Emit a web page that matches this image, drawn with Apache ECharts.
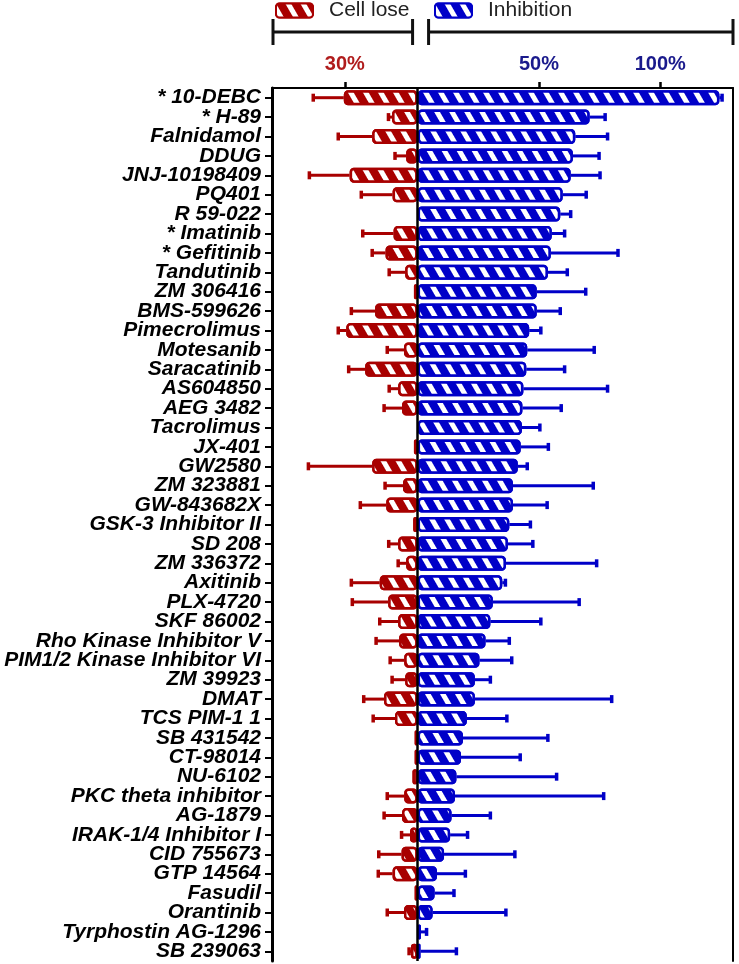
<!DOCTYPE html>
<html>
<head>
<meta charset="utf-8">
<script src="https://cdn.jsdelivr.net/npm/echarts@6/dist/echarts.min.js"></script>
<style>
html,body{margin:0;padding:0;background:#fff;}
#chart{width:739px;height:964px;}
</style>
</head>
<body>
<div id="chart"></div>
<script>
const compounds = ['* 10-DEBC','* H-89','Falnidamol','DDUG','JNJ-10198409','PQ401','R 59-022','* Imatinib','* Gefitinib','Tandutinib','ZM 306416','BMS-599626','Pimecrolimus','Motesanib','Saracatinib','AS604850','AEG 3482','Tacrolimus','JX-401','GW2580','ZM 323881','GW-843682X','GSK-3 Inhibitor II','SD 208','ZM 336372','Axitinib','PLX-4720','SKF 86002','Rho Kinase Inhibitor V','PIM1/2 Kinase Inhibitor VI','ZM 39923','DMAT','TCS PIM-1 1','SB 431542','CT-98014','NU-6102','PKC theta inhibitor','AG-1879','IRAK-1/4 Inhibitor I','CID 755673','GTP 14564','Fasudil','Orantinib','Tyrphostin AG-1296','SB 239063'];

const inhibition = [124.4,70.9,65,64,63.1,59.8,58.8,55.3,54.9,53.7,49.1,49.1,46,45.2,44.8,43.6,43.2,43,42.5,41.3,39.3,39.3,37.8,37.2,36.4,34.9,31,30,28,25.5,23.6,23.6,20.3,18.7,17.9,16,15.4,14,13.4,10.9,8,7,6.2,1.4,1.2];
const inhibitionErr = [1.1,6.4,13.3,10.8,12.1,9.7,4.3,5.3,27.7,8.0,20.2,9.7,4.8,27.6,15.8,34.7,16.0,7.4,11.4,3.9,33.1,14.1,8.7,10.3,37.4,1.3,35.6,20.8,9.8,13.3,6.4,56.4,16.5,35.0,24.4,41.3,61.3,16.0,7.2,29.2,11.7,8.0,30.2,2.3,14.8];

const cellLose = [30.4,10.5,18.7,4.7,28,10.3,0,9.9,13.2,5.1,1.5,17.5,29.4,5.6,21.6,8,6.4,0,1.5,18.7,6,12.9,1.8,8,4.7,15.6,12.1,8,7.6,5.5,5.1,13.8,9.3,1.2,1.2,2.1,5.5,6.4,3.1,6.6,10.3,1.2,5.6,0,2.7];
const cellLoseErr = [12.6,1.5,14,4.6,16.6,12.9,0,12.7,5.5,6.6,0,9.8,3.3,6.9,6.8,3.7,7.4,0,0,26.3,7.4,10.7,0,3.9,3.3,11.7,14.8,7.6,9.5,5.8,5.4,8.4,9,0,0,0,7,7.4,3.5,9.4,5.9,0,6.9,0,0.8];

const topTicks = [-30, 50, 100];

const RED = '#A80000';
const BLUE = '#0000C8';
const LABEL_RED = '#B01C1C';
const LABEL_BLUE = '#1A1A8C';

const hatch = {
  symbol: 'rect',
  symbolSize: 1,
  color: '#ffffff',
  dashArrayX: [1, 0],
  dashArrayY: [5, 8],
  rotation: Math.PI / 3
};

const chart = echarts.init(document.getElementById('chart'), null, {renderer: 'canvas'});

function errRender(params, api) {
  const v = api.value(0), e = api.value(1), y = api.value(2);
  const p0 = api.coord([v, y]);
  const p1 = api.coord([e, y]);
  if (Math.abs(p1[0] - p0[0]) < 0.5) return null;
  const color = api.visual('color');
  return {
    type: 'group',
    children: [
      {type: 'line', shape: {x1: p0[0], y1: p0[1], x2: p1[0], y2: p1[1]}, style: {stroke: color, lineWidth: 3}},
      {type: 'line', shape: {x1: p1[0], y1: p1[1] - 4, x2: p1[0], y2: p1[1] + 4}, style: {stroke: color, lineWidth: 3.5}}
    ]
  };
}

const redBars = cellLose.map(v => (v === 0 ? null : -v));
const blueBars = inhibition.map(v => (v === 0 ? null : v));
const redErr = [], blueErr = [];
cellLose.forEach((v, i) => { if (cellLoseErr[i] > 0) redErr.push([-v, -(v + cellLoseErr[i]), i]); });
inhibition.forEach((v, i) => { if (inhibitionErr[i] > 0) blueErr.push([v, v + inhibitionErr[i], i]); });

const FONT = 'Liberation Sans, Arial, sans-serif';

const option = {
  animation: false,
  backgroundColor: '#fff',
  legend: [
    {
      data: ['Cell lose'], left: 270, top: -5, itemWidth: 37, itemHeight: 14, icon: 'roundRect',
      textStyle: {fontSize: 21, color: '#222', padding: [0, 0, 0, 11], fontFamily: FONT}
    },
    {
      data: ['Inhibition'], left: 429, top: -5, itemWidth: 37, itemHeight: 14, icon: 'roundRect',
      textStyle: {fontSize: 21, color: '#222', padding: [0, 0, 0, 11], fontFamily: FONT}
    }
  ],
  grid: {left: 272, right: 6, top: 88, bottom: 3, containLabel: false},
  xAxis: {
    type: 'value', position: 'top', min: -60, max: 130,
    axisLine: {show: true, onZero: false, lineStyle: {color: '#000', width: 2}},
    axisTick: {show: true, customValues: topTicks, length: 6, inside: false, lineStyle: {color: '#000', width: 2.5}},
    splitLine: {show: false},
    axisLabel: {
      customValues: topTicks, margin: 14,
      formatter: v => Math.abs(v) + '%',
      color: v => (v < 0 ? LABEL_RED : LABEL_BLUE),
      fontSize: 20, fontWeight: 'bold', fontFamily: FONT
    }
  },
  yAxis: [
    {
      type: 'category', inverse: true, data: compounds,
      axisLine: {show: true, onZero: false, lineStyle: {color: '#000', width: 3}},
      axisTick: {show: true, alignWithLabel: true, length: 7, lineStyle: {color: '#000', width: 2}},
      axisLabel: {
        fontSize: 21, fontWeight: 'bold', fontStyle: 'italic', color: '#000', margin: 11,
        fontFamily: FONT, interval: 0
      }
    },
    {
      type: 'category', inverse: true, data: compounds, position: 'right',
      axisLine: {show: true, onZero: false, lineStyle: {color: '#000', width: 2}},
      axisTick: {show: false}, axisLabel: {show: false}
    }
  ],
  series: [
    {
      name: 'Cell lose err', type: 'custom', renderItem: errRender,
      itemStyle: {color: RED}, encode: {x: [0, 1], y: 2}, data: redErr, z: 1, silent: true
    },
    {
      name: 'Inhibition err', type: 'custom', renderItem: errRender,
      itemStyle: {color: BLUE}, encode: {x: [0, 1], y: 2}, data: blueErr, z: 1, silent: true
    },
    {
      name: 'Cell lose', type: 'bar', data: redBars, barWidth: 15, barGap: '-100%', z: 2,
      itemStyle: {color: RED, borderColor: RED, borderWidth: 2.5, borderRadius: 3, decal: hatch}
    },
    {
      name: 'Inhibition', type: 'bar', data: blueBars, barWidth: 15, barGap: '-100%', z: 2,
      itemStyle: {color: BLUE, borderColor: BLUE, borderWidth: 2.5, borderRadius: 3, decal: hatch},
      markLine: {
        silent: true, symbol: 'none', label: {show: false},
        lineStyle: {color: '#000', width: 2.5, type: 'solid'},
        data: [{xAxis: 0}], z: 5
      }
    }
  ]
};

chart.setOption(option);

const xLeft = chart.convertToPixel({xAxisIndex: 0}, -60);
const xZero = chart.convertToPixel({xAxisIndex: 0}, 0);
const xRight = chart.convertToPixel({xAxisIndex: 0}, 130);
const by = 32, bt = 19, bb = 45;
function bracket(x1, x2) {
  return [
    {type: 'line', shape: {x1: x1, y1: by, x2: x2, y2: by}, style: {stroke: '#111', lineWidth: 3}},
    {type: 'line', shape: {x1: x1, y1: bt, x2: x1, y2: bb}, style: {stroke: '#111', lineWidth: 3}},
    {type: 'line', shape: {x1: x2, y1: bt, x2: x2, y2: bb}, style: {stroke: '#111', lineWidth: 3}}
  ];
}
chart.setOption({
  graphic: [{type: 'group', silent: true, children: bracket(xLeft + 1, xZero - 5).concat(bracket(xZero + 11, xRight))}]
});
</script>
</body>
</html>
